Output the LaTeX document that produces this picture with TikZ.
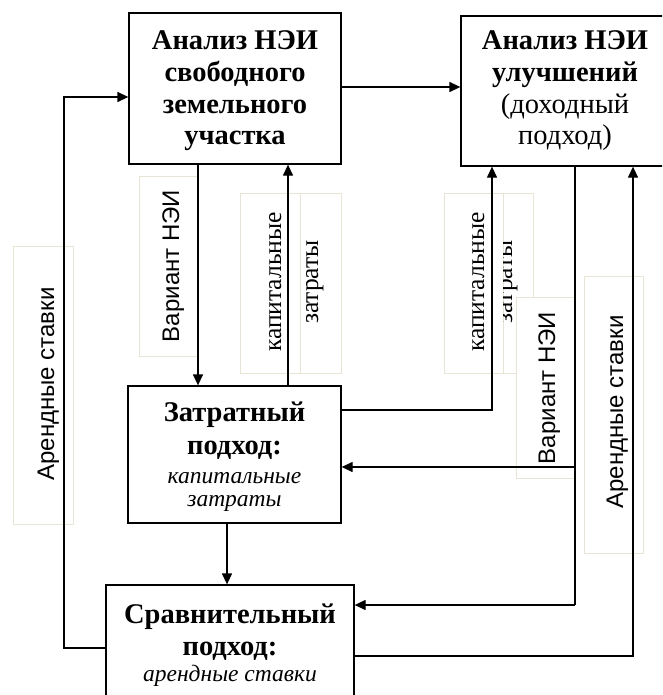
\documentclass[tikz,border=0pt]{standalone}
\usepackage{fontspec}
\setmainfont{Liberation Serif}
\newfontfamily\labelsans{Liberation Sans}
\usetikzlibrary{arrows.meta}
\definecolor{tagline}{RGB}{232,229,214}
\begin{document}
\begin{tikzpicture}[x=1pt,y=-1pt,
  block/.style={draw=black, line width=1.3pt, fill=white, inner sep=0pt},
  tagbox/.style={draw=tagline, line width=0.9pt, fill=white},
  tag/.style={rotate=90, anchor=base, inner sep=0pt, font=\fontsize{25.5}{30}\selectfont},
  sanstag/.style={tag, font=\labelsans\fontsize{24}{28}\selectfont},
  conn/.style={line width=1.3pt},
  arr/.style={conn, -{Triangle[length=11pt,width=10pt]}},
  headtxt/.style={inner sep=0pt, align=center, font=\bfseries\fontsize{28.5}{31.7}\selectfont},
  subtxt/.style={inner sep=0pt, align=center, font=\itshape\fontsize{23.5}{22.5}\selectfont},
]
\useasboundingbox (0,0) rectangle (662,695);
\clip (0,0) rectangle (662,695);

% label frames beside the connectors
\draw[tagbox] (139,176) rectangle (198,356);
\draw[tagbox] (240,193) rectangle (300,373);
\draw[tagbox] (300,193) rectangle (341,373);
\draw[tagbox] (444,193) rectangle (503,373);
\draw[tagbox] (503,193) rectangle (533,373);
\draw[tagbox] (13,246) rectangle (73,524);
\draw[tagbox] (584,276) rectangle (643,553);

% connector labels
\node[sanstag] (t1) at (179,266) {Вариант НЭИ};
\node[tag] (t2) at (281,282) {капитальные};
\node[tag] (t3) at (318,282) {затраты};
\node[tag] (t4) at (484,282) {капитальные};
\begin{scope}
  \clip (503,193) rectangle (533,373);
  \node[tag] (t5) at (512,282) {затраты};
\end{scope}
\draw[tagbox] (516,297) rectangle (574,478);
\node[sanstag] (t6) at (555,388) {Вариант НЭИ};
\node[sanstag] (t7) at (54,384) {Арендные ставки};
\node[sanstag] (t8) at (623,412) {Арендные ставки};

% blocks
\node[block, minimum width=212pt, minimum height=151pt] (A) at (235,88.5) {};
\node[block, minimum width=209pt, minimum height=150pt] (B) at (565.5,91) {};
\node[block, minimum width=213pt, minimum height=137pt] (C) at (234.5,454.5) {};
\node[block, minimum width=248pt, minimum height=116pt] (D) at (230,643) {};

% connectors
\coordinate (yAB) at (0,87);
\draw[arr] (A.east |- yAB) -- (B.west |- yAB);

\coordinate (L1) at (64,648);
\coordinate (L2) at (64,97);
\draw[arr] (D.west |- L1) -- (L1) -- (L2) -- (A.west |- L2);

\coordinate (x198) at (198,0);
\draw[arr] (A.south -| x198) -- (C.north -| x198);
\coordinate (x288) at (288,0);
\draw[arr] (C.north -| x288) -- (A.south -| x288);
\coordinate (x227) at (227,0);
\draw[arr] (C.south -| x227) -- (D.north -| x227);

\coordinate (K1) at (492,410);
\draw[arr] (C.east |- K1) -- (K1) -- (B.south -| K1);

\coordinate (R1) at (575,467);
\coordinate (R2) at (575,605);
\draw[conn] (B.south -| R1) -- (R2);
\draw[arr] (R2) -- (D.east |- R2);
\draw[arr] (R1) -- (C.east |- R1);

\coordinate (S1) at (633,656);
\draw[arr] (D.east |- S1) -- (S1) -- (B.south -| S1);

% block texts
\node[headtxt] (At) at (235,91) {Анализ НЭИ\\свободного\\земельного\\участка};
\node[headtxt, font=\fontsize{28.5}{31.7}\selectfont] (Bt) at (565,91)
  {\textbf{Анализ НЭИ}\\\textbf{улучшений}\\(доходный\\подход)};
\node[headtxt, font=\bfseries\fontsize{28.5}{33}\selectfont] (Ct) at (234.5,430.5) {Затратный\\подход:};
\node[subtxt] (Ci) at (234.5,492) {капитальные\\затраты};
\node[headtxt, font=\bfseries\fontsize{28.5}{32}\selectfont] (Dt) at (230,632) {Сравнительный\\подход:};
\node[subtxt] (Di) at (230,676) {арендные ставки};
\end{tikzpicture}
\end{document}
